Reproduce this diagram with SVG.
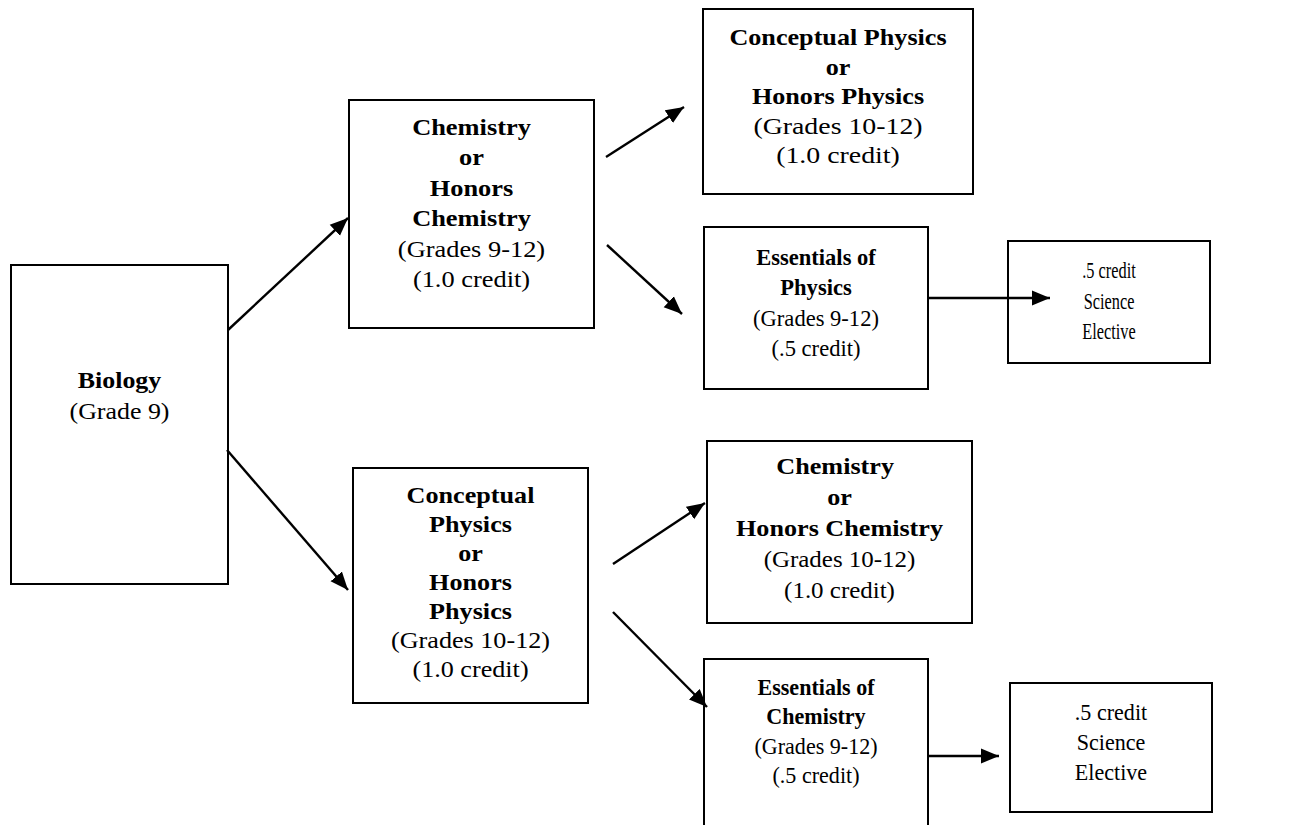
<svg xmlns="http://www.w3.org/2000/svg" width="1313" height="825" viewBox="0 0 1313 825">
<defs>
<style>
rect.box{fill:#fff;stroke:#000;stroke-width:2}
text{font-family:"Liberation Serif","Times New Roman",serif;font-size:24px;fill:#000;text-anchor:middle}
text.b{font-weight:bold}
line.c{stroke:#000;stroke-width:2.4;marker-end:url(#ah)}
</style>
<marker id="ah" markerUnits="userSpaceOnUse" markerWidth="19" markerHeight="16" refX="18" refY="8" orient="auto">
<path d="M0,0.5 L18,8 L0,15.5 z" fill="#000"/>
</marker>
</defs>
<rect width="1313" height="825" fill="#fff"/>
<g id="biology">
<rect class="box" x="11" y="265" width="217" height="319"/>
<g transform="translate(119.5 0) scale(1.08 1)">
<text class="b" x="0" y="388">Biology</text>
<text x="0" y="419">(Grade 9)</text>
</g>
</g>
<g id="chemistry-top">
<rect class="box" x="349" y="100" width="245" height="228"/>
<g transform="translate(471.5 0) scale(1.1 1)">
<text class="b" x="0" y="135">Chemistry</text>
<text class="b" x="0" y="165">or</text>
<text class="b" x="0" y="196">Honors</text>
<text class="b" x="0" y="226">Chemistry</text>
<text x="0" y="257">(Grades 9-12)</text>
<text x="0" y="287">(1.0 credit)</text>
</g>
</g>
<g id="physics-top">
<rect class="box" x="703" y="9" width="270" height="185"/>
<g transform="translate(838 0) scale(1.09 1)">
<text class="b" x="0" y="45">Conceptual Physics</text>
<text class="b" x="0" y="75">or</text>
<text class="b" x="0" y="104">Honors Physics</text>
</g>
<g transform="translate(838 0) scale(1.16 1)">
<text x="0" y="134">(Grades 10-12)</text>
<text x="0" y="163">(1.0 credit)</text>
</g>
</g>
<g id="essentials-physics">
<rect class="box" x="704" y="227" width="224" height="162"/>
<g transform="translate(816 0) scale(0.94 1)">
<text class="b" x="0" y="265">Essentials of</text>
<text class="b" x="0" y="295">Physics</text>
<text x="0" y="326">(Grades 9-12)</text>
<text x="0" y="356">(.5 credit)</text>
</g>
</g>
<g id="elective-top">
<rect class="box" x="1008" y="241" width="202" height="122"/>
<g transform="translate(1109 0) scale(0.68 1)">
<text x="0" y="278">.5 credit</text>
<text x="0" y="309">Science</text>
<text x="0" y="339">Elective</text>
</g>
</g>
<g id="physics-bottom">
<rect class="box" x="353" y="468" width="235" height="235"/>
<g transform="translate(470.5 0) scale(1.09 1)">
<text class="b" x="0" y="503">Conceptual</text>
<text class="b" x="0" y="532">Physics</text>
<text class="b" x="0" y="561">or</text>
<text class="b" x="0" y="590">Honors</text>
<text class="b" x="0" y="619">Physics</text>
<text x="0" y="648">(Grades 10-12)</text>
<text x="0" y="677">(1.0 credit)</text>
</g>
</g>
<g id="chemistry-bottom">
<rect class="box" x="707" y="441" width="265" height="182"/>
<g transform="translate(839.5 0) scale(1.09 1)">
<text class="b" x="-4" y="474">Chemistry</text>
<text class="b" x="0" y="505">or</text>
<text class="b" x="0" y="536">Honors Chemistry</text>
</g>
<g transform="translate(839.5 0) scale(1.04 1)">
<text x="0" y="567">(Grades 10-12)</text>
<text x="0" y="598">(1.0 credit)</text>
</g>
</g>
<g id="essentials-chemistry">
<rect class="box" x="704" y="659" width="224" height="200"/>
<g transform="translate(816 0) scale(0.92 1)">
<text class="b" x="0" y="695">Essentials of</text>
<text class="b" x="0" y="724">Chemistry</text>
<text x="0" y="754">(Grades 9-12)</text>
<text x="0" y="783">(.5 credit)</text>
</g>
</g>
<g id="elective-bottom">
<rect class="box" x="1010" y="683" width="202" height="129"/>
<g transform="translate(1111 0) scale(0.92 1)">
<text x="0" y="720">.5 credit</text>
<text x="0" y="750">Science</text>
<text x="0" y="780">Elective</text>
</g>
</g>
<g id="connectors">
<line class="c" x1="228" y1="330" x2="348" y2="218"/>
<line class="c" x1="227" y1="450" x2="348" y2="590"/>
<line class="c" x1="606" y1="157" x2="684" y2="107"/>
<line class="c" x1="607" y1="245" x2="682" y2="314"/>
<line class="c" x1="928" y1="298" x2="1050" y2="298"/>
<line class="c" x1="613" y1="564" x2="705" y2="503"/>
<line class="c" x1="613" y1="612" x2="707" y2="707"/>
<line class="c" x1="928" y1="756" x2="999" y2="756"/>
</g>
</svg>
